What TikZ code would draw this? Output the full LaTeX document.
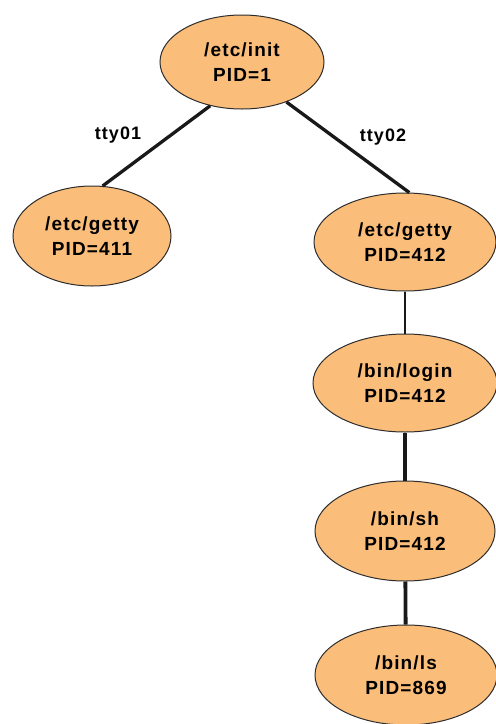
\documentclass[tikz,border=0pt]{standalone}
\usepackage{fontspec}
\setmainfont{Liberation Sans}[LetterSpace=6]
\usetikzlibrary{shapes.geometric}
\definecolor{procfill}{RGB}{251,189,122}
\definecolor{rim}{RGB}{45,45,45}
\begin{document}
\begin{tikzpicture}[x=1pt,y=-1pt,
  proc/.style={ellipse, draw=rim, line width=1pt, fill=procfill, inner sep=0pt,
    align=center, font=\fontsize{19}{25}\selectfont\bfseries},
  link/.style={line width=3.3pt, black!90},
  tag/.style={inner sep=0pt, font=\fontsize{18}{20}\selectfont\bfseries}]
\useasboundingbox (0,0) rectangle (496,724);

% process tree
\node[proc, minimum width=164pt, minimum height=94pt] (init) at (242,62) {/etc/init\\PID=1};
\node[proc, minimum width=158pt, minimum height=100pt] (g411) at (92,236) {/etc/getty\\PID=411};
\node[proc, minimum width=182pt, minimum height=98pt] (g412) at (405,242) {/etc/getty\\PID=412};
\node[proc, minimum width=184pt, minimum height=98pt] (login) at (405,383) {/bin/login\\PID=412};
\node[proc, minimum width=180pt, minimum height=100pt] (sh) at (405,531) {/bin/sh\\PID=412};
\node[proc, minimum width=182pt, minimum height=100pt] (ls) at (406,675) {/bin/ls\\PID=869};

% terminal labels
\node[tag] (t1) at (118,135) {tty01};
\node[tag] (t2) at (383,137) {tty02};

% parent -> child links
\draw[link] (init.234) -- (g411.78);
\draw[link] (init.318) -- (g412.85);
\draw[link, line width=2.4pt] (g412) -- (login);
\draw[link] (login) -- (sh);
\draw[link, line width=3.8pt] (sh) -- (ls);
\end{tikzpicture}
\end{document}
